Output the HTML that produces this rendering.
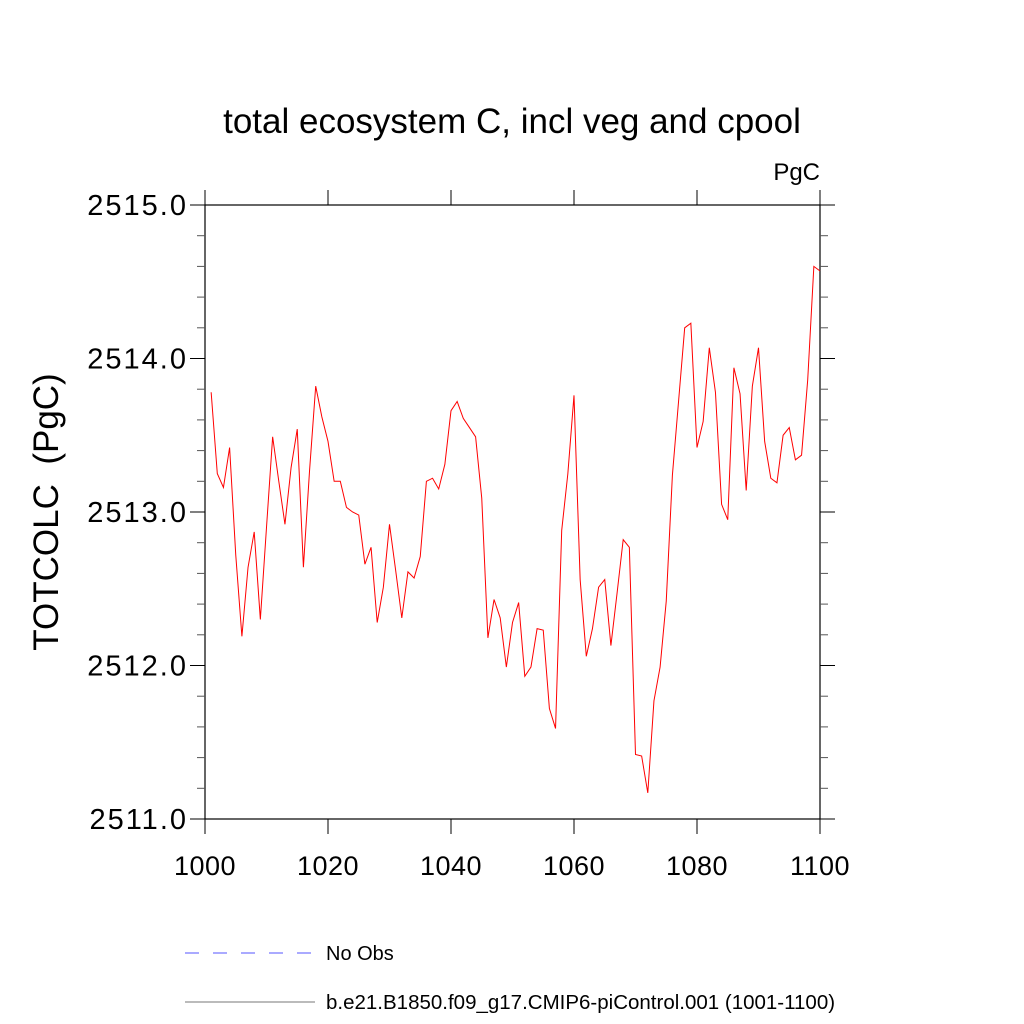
<!DOCTYPE html>
<html><head><meta charset="utf-8"><style>
body{margin:0;background:#fff;}
svg{display:block;font-family:"Liberation Sans",sans-serif;}
</style></head><body>
<svg id="chart" width="1024" height="1024" viewBox="0 0 1024 1024">
<text x="512" y="133" font-size="35" text-anchor="middle">total ecosystem C, incl veg and cpool</text>
<text x="820" y="180" font-size="24" text-anchor="end">PgC</text>
<text transform="translate(58,512) rotate(-90)" font-size="35" text-anchor="middle">TOTCOLC&#160;&#160;(PgC)</text>
<g id="axes"></g>
<g id="series"></g>
<g>
<line x1="185" y1="953" x2="315" y2="953" stroke="#5555ff" stroke-width="1" stroke-dasharray="14,14"/>
<text x="326" y="960" font-size="20">No Obs</text>
<line x1="185" y1="1002" x2="315" y2="1002" stroke="#777" stroke-width="1"/>
<text x="326" y="1009" font-size="20.5">b.e21.B1850.f09_g17.CMIP6-piControl.001 (1001-1100)</text>
</g>
</svg>
<script>
const years = [];
for (let y = 1001; y <= 1100; y++) years.push(y);
const values = [2513.78,2513.25,2513.16,2513.42,2512.72,2512.19,2512.64,2512.87,2512.30,2512.90,
2513.49,2513.20,2512.92,2513.29,2513.54,2512.64,2513.27,2513.82,2513.62,2513.46,
2513.20,2513.20,2513.03,2513.00,2512.98,2512.66,2512.77,2512.28,2512.51,2512.92,
2512.62,2512.31,2512.61,2512.57,2512.71,2513.20,2513.22,2513.15,2513.31,2513.66,
2513.72,2513.61,2513.55,2513.49,2513.09,2512.18,2512.43,2512.31,2511.99,2512.28,
2512.41,2511.93,2511.99,2512.24,2512.23,2511.72,2511.59,2512.88,2513.25,2513.76,
2512.56,2512.06,2512.24,2512.51,2512.56,2512.13,2512.47,2512.82,2512.77,2511.42,
2511.41,2511.17,2511.77,2511.99,2512.42,2513.24,2513.72,2514.20,2514.23,2513.42,
2513.59,2514.07,2513.78,2513.05,2512.95,2513.94,2513.77,2513.14,2513.82,2514.07,
2513.46,2513.22,2513.19,2513.50,2513.55,2513.34,2513.37,2513.86,2514.60,2514.57];
const xTicks = [1000,1020,1040,1060,1080,1100];
const yTicks = [2511,2512,2513,2514,2515];
const yMinor = [2511.2,2511.4,2511.6,2511.8,2512.2,2512.4,2512.6,2512.8,2513.2,2513.4,2513.6,2513.8,2514.2,2514.4,2514.6,2514.8];

const L=205,R=820,T=205,B=819;
const xs = v => L + (v-1000)/100*(R-L);
const ys = v => B - (v-2511)/4*(B-T);
const NS="http://www.w3.org/2000/svg";
const axes=document.getElementById('axes');
function mk(tag,attrs,parent){const e=document.createElementNS(NS,tag);for(const k in attrs)e.setAttribute(k,attrs[k]);parent.appendChild(e);return e;}
let f=mk('rect',{x:L,y:T,width:R-L,height:B-T,fill:'none',stroke:'#000','stroke-width':1.2},axes);


xTicks.forEach(t=>{
  const x=xs(t);
  let a=mk('line',{x1:x,y1:B,x2:x,y2:B+15,stroke:'#000'},axes);
  
  
  let b=mk('line',{x1:x,y1:T,x2:x,y2:T-15,stroke:'#000'},axes);
  
  
  let tx=mk('text',{x:x,y:875,'font-size':27,'text-anchor':'middle','letter-spacing':'0.5'},axes);
  tx.textContent=t;
  
  
});
yTicks.forEach(t=>{
  const y=ys(t);
  let a=mk('line',{x1:L-15,y1:y,x2:L,y2:y,stroke:'#000'},axes);
  
  
  let b=mk('line',{x1:R,y1:y,x2:R+15,y2:y,stroke:'#000'},axes);
  
  
  let tx=mk('text',{x:188,y:y+10,'font-size':29,'text-anchor':'end','letter-spacing':'2'},axes);
  tx.textContent=t.toFixed(1);
  
  
});
yMinor.forEach(t=>{
  const y=ys(t);
  let a=mk('line',{x1:L-8,y1:y,x2:L,y2:y,stroke:'#555'},axes);
  
  
  let b=mk('line',{x1:R,y1:y,x2:R+8,y2:y,stroke:'#555'},axes);
  
  
});
const pts=years.map((yr,i)=>xs(yr).toFixed(2)+','+ys(values[i]).toFixed(2)).join(' ');
let line=mk('polyline',{points:pts,fill:'none',stroke:'#ff0000','stroke-width':1},document.getElementById('series'));


</script>
</body></html>
